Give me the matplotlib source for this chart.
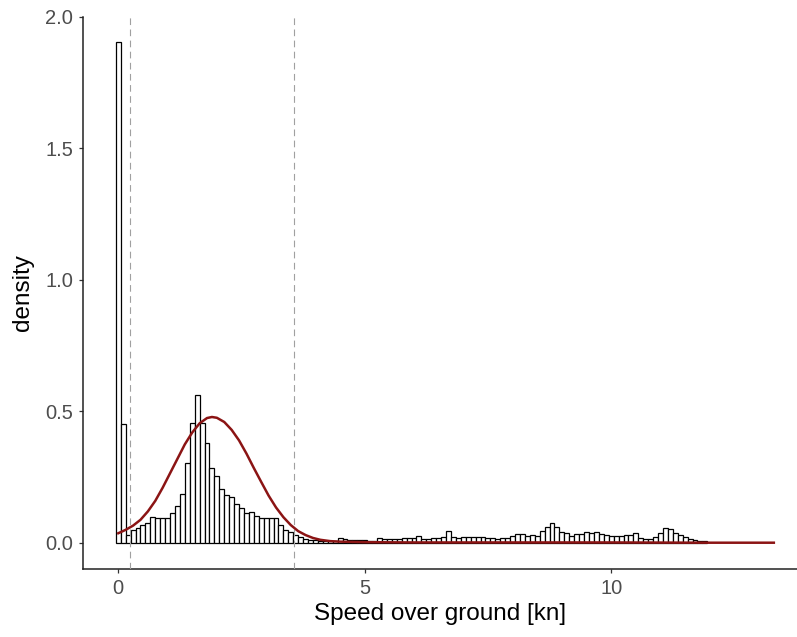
import numpy as np
import matplotlib
matplotlib.use('Agg')
import matplotlib.pyplot as plt

plt.rcParams['font.family'] = ['Liberation Sans', 'DejaVu Sans']

# Histogram of speed over ground (bin width 0.1 kn, bins centred on 0.0, 0.1, ...)
bin_width = 0.1
bar_density = [
    1.905, 0.452, 0.030, 0.049, 0.056, 0.070, 0.077, 0.098, 0.094, 0.096,
    0.096, 0.113, 0.141, 0.185, 0.303, 0.457, 0.563, 0.457, 0.381, 0.284,
    0.254, 0.205, 0.182, 0.175, 0.150, 0.133, 0.114, 0.118, 0.101, 0.095,
    0.095, 0.095, 0.095, 0.067, 0.048, 0.041, 0.029, 0.023, 0.015, 0.013,
    0.010, 0.008, 0.006, 0.006, 0.008, 0.018, 0.015, 0.011, 0.011, 0.011,
    0.011, 0.008, 0.009, 0.019, 0.014, 0.014, 0.014, 0.014, 0.019, 0.019,
    0.019, 0.027, 0.014, 0.014, 0.018, 0.018, 0.024, 0.047, 0.024, 0.018,
    0.022, 0.022, 0.022, 0.024, 0.024, 0.019, 0.018, 0.015, 0.019, 0.019,
    0.025, 0.034, 0.034, 0.027, 0.030, 0.027, 0.047, 0.060, 0.075, 0.060,
    0.043, 0.037, 0.027, 0.034, 0.034, 0.042, 0.039, 0.042, 0.035, 0.029,
    0.028, 0.027, 0.027, 0.030, 0.030, 0.037, 0.019, 0.016, 0.016, 0.024,
    0.037, 0.057, 0.054, 0.037, 0.032, 0.022, 0.016, 0.010, 0.006, 0.008,
]
bin_centers = np.arange(len(bar_density)) * bin_width

# Fitted density curve
curve_x = [0.0, 0.15, 0.3, 0.45, 0.6, 0.75, 0.9, 1.05, 1.2, 1.35, 1.5, 1.65,
           1.8, 1.9, 2.0, 2.15, 2.3, 2.45, 2.6, 2.75, 2.9, 3.05, 3.2, 3.35,
           3.5, 3.65, 3.8, 3.95, 4.1, 4.3, 4.5, 5.0, 6.0, 8.0, 10.0, 12.0, 13.3]
curve_y = [0.037, 0.050, 0.066, 0.088, 0.120, 0.160, 0.210, 0.265, 0.320,
           0.375, 0.420, 0.455, 0.475, 0.479, 0.476, 0.460, 0.430, 0.390,
           0.340, 0.285, 0.232, 0.180, 0.135, 0.098, 0.068, 0.045, 0.030,
           0.019, 0.012, 0.007, 0.005, 0.003, 0.002, 0.002, 0.002, 0.001,
           0.001]

# Thresholds
thresholds = [0.24, 3.56]

fig = plt.figure(figsize=(7.97, 6.37), dpi=100)
ax = fig.add_axes([83 / 797, (637 - 569) / 637, (797 - 83) / 797, (569 - 17) / 637])

ax.bar(bin_centers, bar_density, width=bin_width, facecolor='white',
       edgecolor='black', linewidth=0.9, zorder=2)
for t in thresholds:
    ax.axvline(t, color='#a0a0a0', linestyle=(0, (6, 4)), linewidth=0.8, zorder=3)
ax.plot(curve_x, curve_y, color='#8b1414', linewidth=1.8, zorder=4)

ax.set_xlim(-0.716, 13.77)
ax.set_ylim(-0.099, 2.0)
ax.set_xticks([0, 5, 10])
ax.set_yticks([0.0, 0.5, 1.0, 1.5, 2.0])
ax.set_yticklabels(['0.0', '0.5', '1.0', '1.5', '2.0'])

for side in ['top', 'right']:
    ax.spines[side].set_visible(False)
for side in ['left', 'bottom']:
    ax.spines[side].set_linewidth(1.1)
    ax.spines[side].set_color('#222222')

ax.tick_params(axis='both', direction='out', length=3, width=0.9,
               color='#333333', labelcolor='#4d4d4d', labelsize=14.5, pad=4)

ax.set_xlabel('Speed over ground [kn]', fontsize=17.5, color='black', labelpad=4)
ax.set_ylabel('density', fontsize=17.5, color='black', labelpad=8)

fig.savefig('out.png', dpi=100)
